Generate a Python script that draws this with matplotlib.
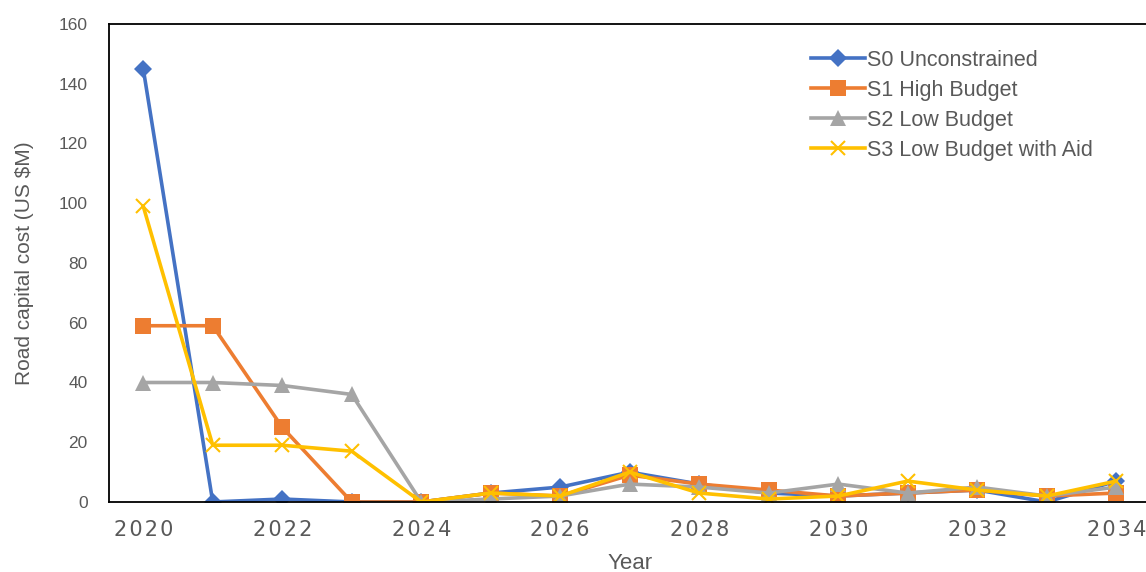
import matplotlib
matplotlib.use("Agg")
import matplotlib.pyplot as plt

plt.rcParams["font.family"] = ["Liberation Sans", "DejaVu Sans"]

years = list(range(2020, 2035))
s0_unconstrained = [145, 0, 1, 0, 0, 3, 5, 10, 6, 3, 2, 3, 4, 0, 7]
s1_high_budget = [59, 59, 25, 0, 0, 3, 2, 9, 6, 4, 2, 3, 4, 2, 3]
s2_low_budget = [40, 40, 39, 36, 0, 1, 2, 6, 5, 3, 6, 3, 5, 2, 5]
s3_low_budget_aid = [99, 19, 19, 17, 0, 3, 2, 10, 3, 1, 2, 7, 4, 2, 7]

series = [
    ("S0 Unconstrained", s0_unconstrained, "#4472C4", "D", 9),
    ("S1 High Budget", s1_high_budget, "#ED7D31", "s", 11),
    ("S2 Low Budget", s2_low_budget, "#A5A5A5", "^", 12),
    ("S3 Low Budget with Aid", s3_low_budget_aid, "#FFC000", "x", 10),
]

TEXT = "#595959"

fig = plt.figure(figsize=(11.46, 5.72), dpi=100)
ax = fig.add_axes([108.5 / 1146, 70 / 572, 1042.5 / 1146, 478 / 572])

for label, vals, color, marker, ms in series:
    ax.plot(years, vals, color=color, lw=2.6, marker=marker, ms=ms,
            mew=1.5 if marker == "x" else 0, mec=color, mfc=color, label=label)

ax.set_xlim(2019.5, 2034.5)
ax.set_ylim(0, 160)
ax.set_yticks(range(0, 161, 20))
ax.set_xticks(range(2020, 2035, 2))
ax.set_xticklabels(["\u200a".join(str(y)) for y in range(2020, 2035, 2)],
                   family=["DejaVu Sans"])

ax.tick_params(axis="both", length=0, colors=TEXT)
ax.tick_params(axis="x", labelsize=15, pad=13)
ax.tick_params(axis="y", labelsize=12.5, pad=15)

for side in ("left", "bottom", "top"):
    ax.spines[side].set_color("black")
    ax.spines[side].set_linewidth(1.3)
ax.spines["right"].set_visible(False)

ax.set_xlabel("Year", fontsize=16, color=TEXT)
ax.xaxis.set_label_coords(0.5, -0.106)
ax.set_ylabel("Road capital cost (US $M)", fontsize=15, color=TEXT)
ax.yaxis.set_label_coords(-74 / 1042.5, 0.5)

ax.legend(loc="upper left", bbox_to_anchor=(800 / 1146, 1 - 39 / 572),
          bbox_transform=fig.transFigure, frameon=False, fontsize=15.5,
          labelcolor=TEXT, borderpad=0, handlelength=2.5, handletextpad=0.12,
          labelspacing=0.42)

fig.savefig("out.png", dpi=100)
